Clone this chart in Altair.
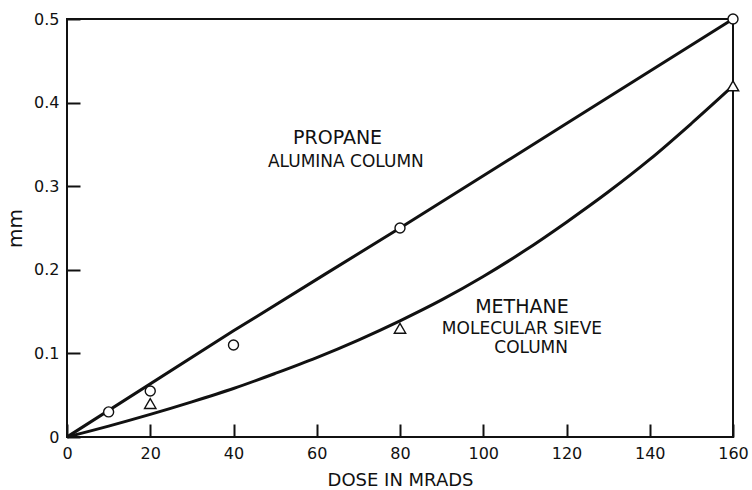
import altair as alt
import pandas as pd

# Measured points
propane_dose = [10, 20, 40, 80, 160]
propane_mm = [0.03, 0.055, 0.11, 0.25, 0.5]
methane_dose = [20, 80, 160]
methane_mm = [0.04, 0.13, 0.42]

# Smooth fitted curves
propane_curve_dose = [0, 40, 80, 120, 160]
propane_curve_mm = [0, 0.127, 0.25, 0.375, 0.5]
methane_curve_dose = [0, 10, 20, 30, 40, 50, 60, 70, 80, 90, 100, 110, 120, 130, 140, 150, 160]
methane_curve_mm = [0, 0.013, 0.027, 0.042, 0.058, 0.076, 0.095, 0.116, 0.139,
                    0.164, 0.192, 0.223, 0.257, 0.293, 0.332, 0.375, 0.42]

# Axis ticks
x_ticks = [0, 20, 40, 60, 80, 100, 120, 140, 160]
y_ticks = [0, 0.1, 0.2, 0.3, 0.4, 0.5]

# Curve labels
label_text = ["PROPANE", "ALUMINA COLUMN", "METHANE", "MOLECULAR SIEVE", "COLUMN"]
label_dose = [65.0, 67.0, 109.3, 109.3, 111.5]
label_mm = [0.358, 0.329, 0.155, 0.129, 0.107]
label_big = [True, False, True, False, False]

INK = "#111111"
FONT = "DejaVu Sans"
TICK = 13  # tick length; the axes are pulled inside the frame by this much

prop_pts = pd.DataFrame({"dose": propane_dose, "mm": propane_mm})
meth_pts = pd.DataFrame({"dose": methane_dose, "mm": methane_mm})
prop_curve = pd.DataFrame({"dose": propane_curve_dose, "mm": propane_curve_mm})
meth_curve = pd.DataFrame({"dose": methane_curve_dose, "mm": methane_curve_mm})
labels = pd.DataFrame({"text": label_text, "dose": label_dose, "mm": label_mm, "big": label_big})

x_scale = alt.Scale(domain=[0, 160], nice=False, zero=True)
y_scale = alt.Scale(domain=[0, 0.5], nice=False, zero=True)

# Axes sit TICK px inside the frame so their outward ticks read as inward ticks
x_enc = alt.X(
    "dose:Q", scale=x_scale,
    axis=alt.Axis(values=x_ticks, title="DOSE IN MRADS", offset=-TICK,
                  ticks=True, tickSize=TICK, tickWidth=2, tickColor=INK,
                  domain=False, grid=False, labelPadding=8, labelFontSize=16,
                  labelFont=FONT, labelColor=INK, titleFont=FONT, titleFontSize=18,
                  titleFontWeight="normal", titleColor=INK, titlePadding=10,
                  labelFlush=False),
)
y_enc = alt.Y(
    "mm:Q", scale=y_scale,
    axis=alt.Axis(values=y_ticks, title="mm", offset=-TICK,
                  ticks=True, tickSize=TICK, tickWidth=2, tickColor=INK,
                  domain=False, grid=False, labelPadding=8, labelFontSize=16,
                  labelFont=FONT, labelColor=INK,
                  labelExpr="datum.value == 0 ? '0' : format(datum.value, '.1f')",
                  titleFont=FONT, titleFontSize=20, titleFontWeight="normal",
                  titleColor=INK, titlePadding=8, labelFlush=False),
)

propane_line = alt.Chart(prop_curve).mark_line(
    color=INK, strokeWidth=3, interpolate="monotone", clip=False
).encode(x=x_enc, y=y_enc)

methane_line = alt.Chart(meth_curve).mark_line(
    color=INK, strokeWidth=3, interpolate="monotone", clip=False
).encode(x="dose:Q", y="mm:Q")

propane_marks = alt.Chart(prop_pts).mark_point(
    shape="circle", size=100, filled=True, fill="white", stroke=INK,
    strokeWidth=1.4, opacity=1, clip=False
).encode(x="dose:Q", y="mm:Q")

methane_marks = alt.Chart(meth_pts).mark_point(
    shape="triangle-up", size=130, filled=True, fill="white", stroke=INK,
    strokeWidth=1.4, opacity=1, clip=False
).encode(x="dose:Q", y="mm:Q")

big_text = alt.Chart(labels).transform_filter("datum.big").mark_text(
    font=FONT, fontSize=19, color=INK, align="center", baseline="middle"
).encode(x="dose:Q", y="mm:Q", text="text:N")

small_text = alt.Chart(labels).transform_filter("!datum.big").mark_text(
    font=FONT, fontSize=17, color=INK, align="center", baseline="middle"
).encode(x="dose:Q", y="mm:Q", text="text:N")

chart = alt.layer(
    propane_line, methane_line,
    propane_marks, methane_marks, big_text, small_text
).properties(
    width=666, height=418,
    autosize=alt.AutoSizeParams(type="none"),
    padding={"left": 67, "top": 19, "right": 19, "bottom": 53},
    background="white",
).configure_view(stroke=INK, strokeWidth=2)

chart.save("out.html", embed_options={"renderer": "svg", "actions": False})
